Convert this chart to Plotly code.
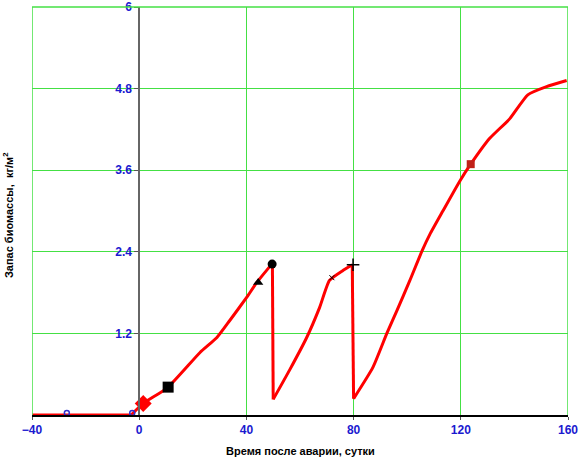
import plotly.graph_objects as go

# biomass curve (days after accident, kg/m2), split at the two harvests
flat_days = [-40, -3]
flat_bio = [0, 0]
seg1_days = [-3, 1.5, 10.5, 22.7, 29, 33.8, 40.1, 43.9, 49.7]
seg1_bio = [0, 0.17, 0.40, 0.92, 1.14, 1.39, 1.73, 1.95, 2.23]
seg2_days = [50.0, 56.1, 62.5, 67.3, 71, 75.8, 79.5]
seg2_bio = [0.23, 0.66, 1.14, 1.58, 1.98, 2.12, 2.21]
seg3_days = [80.0, 87.2, 92.4, 96.2, 101, 105.5, 108.5, 113.3, 119.6, 123.7, 130.8, 138.3, 145, 152, 159.5]
seg3_bio = [0.24, 0.70, 1.20, 1.54, 1.98, 2.41, 2.66, 3.00, 3.44, 3.69, 4.07, 4.36, 4.71, 4.83, 4.92]

# event markers
circ_x = [-27, -2.6]
circ_y = [0.03, 0.03]
diamond_x, diamond_y = [1.5], [0.17]
square_x, square_y = [10.8], [0.41]
tri_x, tri_y = [44.4], [1.95]
dot_x, dot_y = [49.6], [2.22]
xmark_x, xmark_y = [71.9], [2.02]
plus_x, plus_y = [79.8], [2.21]
sq2_x, sq2_y = [123.7], [3.69]

x_ticks = [-40, 0, 40, 80, 120, 160]
x_labels = ["\u221240", "0", "40", "80", "120", "160"]
y_ticks = [1.2, 2.4, 3.6, 4.8, 6]
y_labels = ["1.2", "2.4", "3.6", "4.8", "6"]

grid_green = "#44e044"
red = "#ff0000"

fig = go.Figure()
fig.add_trace(go.Scatter(x=flat_days, y=flat_bio, mode="lines", line=dict(color=red, width=3)))
# growth segments smoothed, harvest drops straight
for sx, sy in [(seg1_days, seg1_bio), (seg2_days, seg2_bio), (seg3_days, seg3_bio)]:
    fig.add_trace(go.Scatter(x=sx, y=sy, mode="lines",
                             line=dict(color=red, width=3, shape="spline", smoothing=0.5)))
for a, b in [((seg1_days, seg1_bio), (seg2_days, seg2_bio)), ((seg2_days, seg2_bio), (seg3_days, seg3_bio))]:
    fig.add_trace(go.Scatter(x=[a[0][-1], b[0][0]], y=[a[1][-1], b[1][0]], mode="lines",
                             line=dict(color=red, width=3)))

fig.add_trace(go.Scatter(x=circ_x, y=circ_y, mode="markers",
                         marker=dict(symbol="circle-open", size=5, color="#3030d0", line_width=1.5)))
fig.add_trace(go.Scatter(x=diamond_x, y=diamond_y, mode="markers",
                         marker=dict(symbol="diamond", size=13, color=red)))
fig.add_trace(go.Scatter(x=square_x, y=square_y, mode="markers",
                         marker=dict(symbol="square", size=11, color="#000000")))
fig.add_trace(go.Scatter(x=tri_x, y=tri_y, mode="markers",
                         marker=dict(symbol="triangle-up", size=9, color="#000000")))
fig.add_trace(go.Scatter(x=dot_x, y=dot_y, mode="markers",
                         marker=dict(symbol="circle", size=9, color="#000000")))
fig.add_trace(go.Scatter(x=xmark_x, y=xmark_y, mode="markers",
                         marker=dict(symbol="x-thin", size=5, color="#000000", line=dict(width=1, color="#000000"))))
fig.add_trace(go.Scatter(x=plus_x, y=plus_y, mode="markers",
                         marker=dict(symbol="cross-thin", size=9, color="#000000", line=dict(width=1.5, color="#000000"))))
fig.add_trace(go.Scatter(x=sq2_x, y=sq2_y, mode="markers",
                         marker=dict(symbol="square", size=8, color="#c02018")))

tick_font = dict(family="Liberation Sans, Arial", size=12, color="#1a1ad0", weight="bold")
title_font = dict(family="Liberation Sans, Arial", size=11, color="#000000", weight="bold")

fig.update_layout(
    width=583, height=457,
    margin=dict(l=32, r=15, t=7, b=42),
    paper_bgcolor="white", plot_bgcolor="white",
    showlegend=False,
    xaxis=dict(range=[-40, 160], tickvals=x_ticks, ticktext=x_labels, automargin=False,
               showgrid=True, gridcolor=grid_green, gridwidth=1, zeroline=False,
               showline=True, linecolor="#000000", linewidth=1.5,
               ticks="outside", ticklen=3, tickcolor="#555555",
               tickfont=tick_font, ticklabeloverflow="allow"),
    yaxis=dict(range=[0, 6.002], tickvals=y_ticks, ticktext=y_labels, automargin=False,
               showgrid=True, gridcolor=grid_green, gridwidth=1, zeroline=False,
               anchor="free", position=0.2,
               showline=True, linecolor="#666666", linewidth=1.5,
               ticks="outside", ticklen=4, tickcolor="#555555",
               tickfont=tick_font, ticklabeloverflow="allow"),
)

# axis titles placed by pixel offset from the plot edges
fig.add_annotation(text="Время после аварии, сутки", xref="paper", yref="paper",
                   x=0.5, y=0, yshift=-36, showarrow=False, font=title_font,
                   xanchor="center", yanchor="middle")
fig.add_annotation(text="Запас биомассы,  кг/м<sup>2</sup>", xref="paper", yref="paper",
                   x=0, y=0.49, xshift=-24, textangle=-90, showarrow=False, font=title_font,
                   xanchor="center", yanchor="middle")

# green frame on left, top and right like the original grid
fig.add_shape(type="line", xref="x", yref="paper", x0=-40, x1=-40, y0=0, y1=1, line=dict(color=grid_green, width=1.5))
fig.add_shape(type="line", xref="x", yref="paper", x0=160, x1=160, y0=0, y1=1, line=dict(color=grid_green, width=1.5))
fig.add_shape(type="line", xref="paper", yref="paper", x0=0, x1=1, y0=1, y1=1, line=dict(color=grid_green, width=1.5))

# drop the browser's default body margin so the figure sits at the page corner
fig.write_html("out.html", config={"displayModeBar": False},
               post_script="document.body.style.margin='0';")
